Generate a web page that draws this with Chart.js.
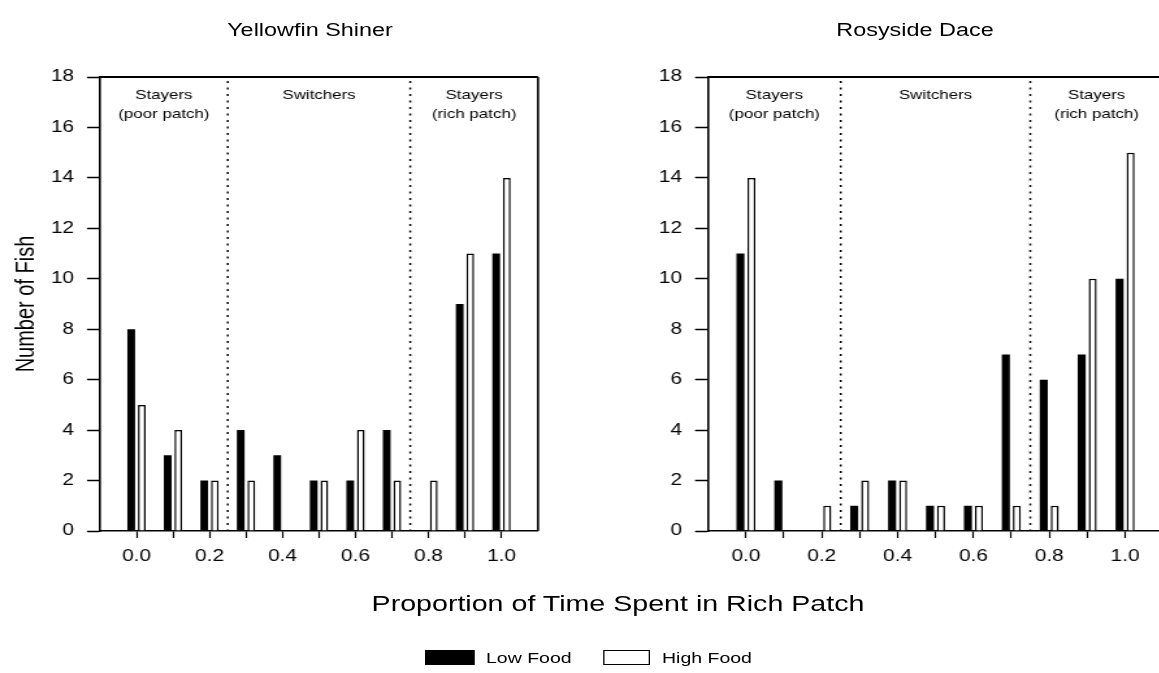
<!DOCTYPE html>
<html>
<head>
<meta charset="utf-8">
<title>Patch choice of two minnow species</title>
<script src="https://cdn.jsdelivr.net/npm/chart.js@4.4.1/dist/chart.umd.min.js"></script>
<style>
  html, body { margin: 0; padding: 0; background: #fff; overflow: hidden; }
  #figure { position: absolute; left: 0; top: 0; width: 900px; height: 673px; transform-origin: 0 0;
            font-family: Arial, "Liberation Sans", sans-serif; color: #000; }
  #figure canvas { position: absolute; top: 0; }
  .label { position: absolute; white-space: nowrap; transform: translate(-50%, -50%); }
  .legend-text { position: absolute; white-space: nowrap; transform: translate(0, -50%); }
  .swatch { position: absolute; box-sizing: border-box; border: 1.5px solid #000; }
</style>
</head>
<body>
<div id="figure">
  <canvas id="shinerChart" width="470" height="600"></canvas>
  <canvas id="daceChart" width="440" height="600"></canvas>
  <div class="label" id="shinerTitle">Yellowfin Shiner</div>
  <div class="label" id="daceTitle">Rosyside Dace</div>
  <div class="label" id="xTitle">Proportion of Time Spent in Rich Patch</div>
  <div class="swatch" id="lowSwatch"></div>
  <div class="legend-text" id="lowText">Low Food</div>
  <div class="swatch" id="highSwatch"></div>
  <div class="legend-text" id="highText">High Food</div>
</div>
<script>
// counts of fish per proportion of time spent in the rich patch
const proportions = [0.0, 0.1, 0.2, 0.3, 0.4, 0.5, 0.6, 0.7, 0.8, 0.9, 1.0];
const shinerLow  = [8, 3, 2, 4, 3, 2, 2, 4, 0, 9, 11];
const shinerHigh = [5, 4, 2, 2, 0, 2, 4, 2, 2, 11, 14];
const daceLow    = [11, 2, 0, 1, 2, 1, 1, 7, 6, 7, 10];
const daceHigh   = [14, 0, 1, 2, 2, 1, 1, 1, 1, 10, 15];

const xMin = -0.1, xMax = 1.1, xStep = 0.1;
const yMax = 18, yStep = 2;

// behaviour groups split by the dotted lines
const groupBreaks = [0.25, 0.75];
const groupLabels = [["Stayers", "(poor patch)"], ["Switchers"], ["Stayers", "(rich patch)"]];

// whole figure is drawn narrow and stretched sideways
const S = 1.3;
document.getElementById("figure").style.transform = "scaleX(" + S + ")";

const panelDecor = {
    id: "panelDecor",
    afterDatasetsDraw(chart) {
        const { ctx, chartArea: a, scales: { x } } = chart;
        ctx.save();
        ctx.strokeStyle = "#000";
        ctx.fillStyle = "#000";

        // dotted separators between groups
        ctx.lineWidth = 1.5;
        ctx.setLineDash([2, 4.5]);
        groupBreaks.forEach(function(v) {
            const px = x.getPixelForValue(v);
            ctx.beginPath();
            ctx.moveTo(px, a.top + 4);
            ctx.lineTo(px, a.bottom);
            ctx.stroke();
        });
        ctx.setLineDash([]);

        // top and right edge of the frame
        ctx.lineWidth = 2;
        ctx.beginPath();
        ctx.moveTo(a.left, a.top);
        ctx.lineTo(a.right, a.top);
        ctx.stroke();
        ctx.lineWidth = 1.6;
        ctx.beginPath();
        ctx.moveTo(a.right, a.top);
        ctx.lineTo(a.right, a.bottom);
        ctx.stroke();

        // group names, centred in each group
        ctx.font = '13px Arial, "Liberation Sans", sans-serif';
        ctx.textAlign = "center";
        ctx.textBaseline = "middle";
        const edges = [x.min].concat(groupBreaks, [x.max]);
        groupLabels.forEach(function(lines, i) {
            const cx = x.getPixelForValue((edges[i] + edges[i + 1]) / 2);
            lines.forEach(function(t, j) {
                ctx.fillText(t, cx, a.top + 18 + j * 19);
            });
        });
        ctx.restore();
    }
};

function makeChart(canvasId, lowData, highData, frame) {
    const ctx = document.getElementById(canvasId).getContext("2d");
    const bars = { categoryPercentage: 0.58, barPercentage: 0.73 };
    return new Chart(ctx, {
        type: "bar",
        data: {
            datasets: [
                Object.assign({
                    label: "Low Food",
                    data: proportions.map(function(p, i) { return { x: p, y: lowData[i] }; }),
                    backgroundColor: "#000", borderColor: "#000", borderWidth: 0
                }, bars),
                Object.assign({
                    label: "High Food",
                    data: proportions.map(function(p, i) { return { x: p, y: highData[i] }; }),
                    backgroundColor: "#fff", borderColor: "#000", borderWidth: 1.5
                }, bars)
            ]
        },
        options: {
            responsive: false,
            animation: false,
            layout: { padding: { left: frame.padLeft, right: frame.padRight, top: 77, bottom: 600 - 531 - 50 } },
            plugins: { legend: { display: false }, tooltip: { enabled: false } },
            scales: {
                x: {
                    type: "linear", min: xMin, max: xMax, offset: false,
                    ticks: {
                        stepSize: xStep, maxTicksLimit: 30, autoSkip: false, maxRotation: 0,
                        padding: 9, color: "#000", font: { size: 16 },
                        callback: function(value) {
                            const k = Math.round(value * 10);
                            return (k >= 0 && k <= 10 && k % 2 === 0) ? (k / 10).toFixed(1) : "";
                        }
                    },
                    grid: {
                        offset: false, drawOnChartArea: false, tickLength: 7, tickWidth: 1.2,
                        tickColor: function(c) {
                            const v = c.tick ? c.tick.value : 0;
                            return (v < -0.01 || v > 1.01) ? "rgba(0,0,0,0)" : "#000";
                        }
                    },
                    border: { color: "#000", width: 1.5 },
                    afterFit: function(s) { s.height = 50; }
                },
                y: {
                    min: 0, max: yMax,
                    ticks: { stepSize: yStep, padding: 10, color: "#000", font: { size: 16 } },
                    grid: { drawOnChartArea: false, tickLength: 10, tickWidth: 1.5, tickColor: "#000" },
                    border: { color: "#000", width: 1.6 },
                    title: {
                        display: frame.yTitle, text: "Number of Fish", color: "#000",
                        font: { size: 20 }, padding: { top: 4, bottom: 4 }
                    },
                    afterFit: function(s) { s.width = frame.yWidth; }
                }
            }
        },
        plugins: [panelDecor]
    });
}

// frame edges in stretched figure pixels
const shinerLeft = 100 / S, shinerRight = 538 / S;
const daceCanvasX = 470;
const daceLeft = 708 / S - daceCanvasX, daceRight = 1163 / S - daceCanvasX;
const titleLine = 20 * 1.2;

document.getElementById("daceChart").style.left = daceCanvasX + "px";

const shinerPad = 27 / S - titleLine / 2 - 4;
makeChart("shinerChart", shinerLow, shinerHigh, {
    padLeft: shinerPad, yWidth: shinerLeft - shinerPad, padRight: 470 - shinerRight, yTitle: true
});
makeChart("daceChart", daceLow, daceHigh, {
    padLeft: daceLeft - 55, yWidth: 55, padRight: 440 - daceRight, yTitle: false
});

function put(id, x, y, size) {
    const el = document.getElementById(id);
    el.style.left = (x / S) + "px";
    el.style.top = y + "px";
    if (size) el.style.fontSize = size + "px";
}
put("shinerTitle", 310, 30, 18);
put("daceTitle", 915, 30, 18);
put("xTitle", 618, 604, 22);

const low = document.getElementById("lowSwatch");
low.style.left = (425 / S) + "px"; low.style.top = "650px";
low.style.width = (49 / S) + "px"; low.style.height = "15px"; low.style.background = "#000";
const high = document.getElementById("highSwatch");
high.style.left = (603 / S) + "px"; high.style.top = "650px";
high.style.width = (47 / S) + "px"; high.style.height = "15px"; high.style.background = "#fff";
put("lowText", 486, 657, 15);
put("highText", 662, 657, 15);
</script>
</body>
</html>
